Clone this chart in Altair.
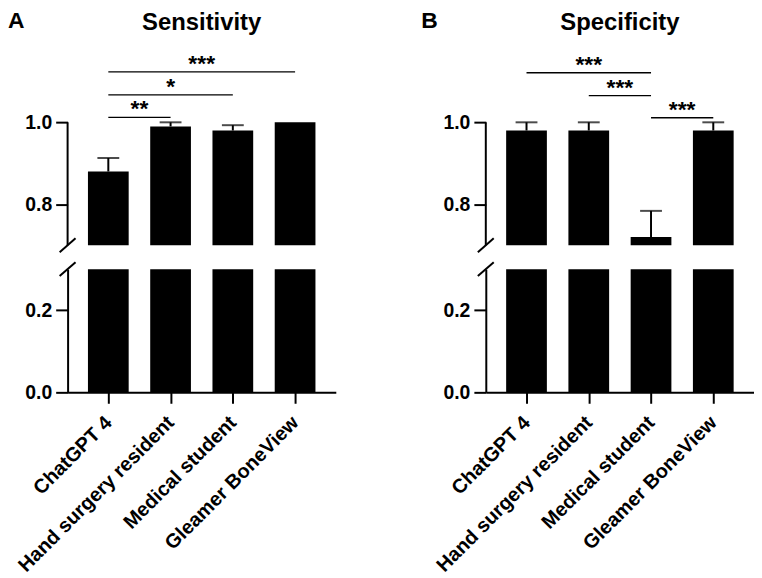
import json
import altair as alt
import pandas as pd

# ---------------- data ----------------
categories = ["ChatGPT 4", "Hand surgery resident", "Medical student", "Gleamer BoneView"]

sens_values = [0.88, 0.99, 0.98, 1.00]
sens_err = [0.033, 0.010, 0.013, 0.0]

spec_values = [0.98, 0.98, 0.72, 0.98]
spec_err = [0.020, 0.020, 0.064, 0.020]

# significance brackets (category index from/to, label, height)
sens_from = [0, 0, 0]
sens_to = [1, 2, 3]
sens_stars = ["**", "*", "***"]
sens_level = [1.012, 1.067, 1.123]

spec_from = [0, 1, 2]
spec_to = [2, 2, 3]
spec_stars = ["***", "***", "***"]
spec_level = [1.121, 1.065, 1.011]

upper_range = [0.7, 1.0]     # upper segment of broken axis
lower_range = [0.0, 0.3]     # lower segment of broken axis
upper_top = 1.17             # room for brackets
upper_ticks = [0.8, 1.0]
lower_ticks = [0.0, 0.2]

# ---------------- style ----------------
FONT = "Liberation Sans"
W = 270
H_UP = 194
H_LO = 124
X_DOMAIN = [-0.654, 3.654]
BAR_W = 41
LAB_FS = 19.5
CAT_FS = 20

label_expr = json.dumps(categories) + "[datum.value]"

one = pd.DataFrame({"k": [0]})


def y_axis(vals, show_domain):
    return alt.Axis(
        values=vals, format=".1f", domain=show_domain, domainColor="black", domainWidth=2,
        ticks=True, tickColor="black", tickWidth=2, tickSize=12, grid=False,
        labelFont=FONT, labelFontSize=LAB_FS, labelFontWeight="bold", labelColor="black",
        labelPadding=4, labelFlush=False, title=None,
    )


def panel(title, letter, letter_x, values, errs, b_from, b_to, b_stars, b_level):
    df = pd.DataFrame({"idx": list(range(len(categories))), "cat": categories,
                       "value": values, "err": errs})
    df["upper"] = df["value"] + df["err"]
    br = pd.DataFrame({"from": b_from, "to": b_to, "stars": b_stars, "level": b_level})
    br["mid"] = (br["from"] + br["to"]) / 2

    xs = alt.Scale(domain=X_DOMAIN, nice=False, zero=False, padding=0)
    ys_up = alt.Scale(domain=[upper_range[0], upper_top], nice=False, zero=False, padding=0)
    ys_lo = alt.Scale(domain=lower_range, nice=False, zero=False, padding=0)

    # ---------- upper segment ----------
    bars_up = alt.Chart(df).mark_bar(size=BAR_W, color="black").encode(
        x=alt.X("idx:Q", scale=xs, axis=None, title=None),
        y=alt.Y("value:Q", scale=ys_up, axis=y_axis(upper_ticks, False), title=None),
        y2=alt.datum(upper_range[0]),
    )
    err_rule = alt.Chart(df).transform_filter("datum.err > 0").mark_rule(
        color="black", strokeWidth=2).encode(
        x=alt.X("idx:Q", title=None),
        y=alt.Y("value:Q", title=None),
        y2="upper:Q",
    )
    err_cap = alt.Chart(df).transform_filter("datum.err > 0").mark_tick(
        color="black", orient="horizontal", size=22, thickness=2).encode(
        x=alt.X("idx:Q", title=None),
        y=alt.Y("upper:Q", title=None),
    )
    br_rule = alt.Chart(br).mark_rule(color="black", strokeWidth=1.4).encode(
        x=alt.X("from:Q", title=None),
        x2="to:Q",
        y=alt.Y("level:Q", title=None),
    )
    br_text = alt.Chart(br).mark_text(
        font=FONT, fontSize=23, fontWeight="bold", color="black",
        baseline="alphabetic", align="center", dy=-1).encode(
        x=alt.X("mid:Q", title=None),
        y=alt.Y("level:Q", title=None),
        text="stars:N",
    )
    axis_line = alt.Chart(one).mark_rule(color="black", strokeWidth=2).encode(
        x=alt.value(0),
        y=alt.datum(upper_range[0]),
        y2=alt.datum(upper_range[1]),
    )
    slash_up = alt.Chart(one).mark_rule(color="black", strokeWidth=2, yOffset=7, y2Offset=-7).encode(
        x=alt.value(-8), x2=alt.value(8),
        y=alt.datum(upper_range[0]), y2=alt.datum(upper_range[0]),
    )
    letter_txt = alt.Chart(one).mark_text(
        text=letter, font=FONT, fontSize=23, fontWeight="bold", color="black",
        align="left", baseline="alphabetic").encode(
        x=alt.value(letter_x), y=alt.value(-24.5))
    title_txt = alt.Chart(one).mark_text(
        text=title, font=FONT, fontSize=24, fontWeight="bold", color="black",
        align="center", baseline="alphabetic").encode(
        x=alt.value(W / 2), y=alt.value(-23))

    upper = alt.layer(bars_up, err_rule, err_cap, br_rule, br_text, axis_line,
                      slash_up, letter_txt, title_txt).properties(width=W, height=H_UP)

    # ---------- lower segment ----------
    bars_lo = alt.Chart(df).mark_bar(size=BAR_W, color="black", clip=True).encode(
        x=alt.X("idx:Q", scale=xs, title=None, axis=alt.Axis(
            values=list(range(len(categories))), labelExpr=label_expr, labelAngle=-45,
            labelAlign="right", labelBaseline="middle",
            domain=True, domainColor="black", domainWidth=2,
            ticks=True, tickColor="black", tickWidth=2, tickSize=11, grid=False,
            labelFont=FONT, labelFontSize=CAT_FS, labelFontWeight="bold", labelColor="black",
            labelPadding=16, labelOverlap=False, labelFlush=False, labelBound=False,
            labelLimit=400, title=None)),
        y=alt.Y("value:Q", scale=ys_lo, axis=y_axis(lower_ticks, True), title=None),
        y2=alt.datum(lower_range[0]),
    )
    slash_lo = alt.Chart(one).mark_rule(color="black", strokeWidth=2, yOffset=7, y2Offset=-7).encode(
        x=alt.value(-8), x2=alt.value(8),
        y=alt.datum(lower_range[1]), y2=alt.datum(lower_range[1]),
    )
    lower = alt.layer(bars_lo, slash_lo).properties(width=W, height=H_LO)

    return upper, lower


upA, loA = panel("Sensitivity", "A", -60, sens_values, sens_err, sens_from, sens_to, sens_stars, sens_level)
upB, loB = panel("Specificity", "B", -65, spec_values, spec_err, spec_from, spec_to, spec_stars, spec_level)

chart = alt.concat(
    upA, upB, loA, loB, columns=2, bounds="flush",
    spacing={"row": 24, "column": 151},
).resolve_scale(x="independent", y="independent").properties(
    padding=0, background="white"
).configure(font=FONT).configure_view(stroke=None)

chart.save("out.html", embed_options={"renderer": "svg", "actions": False})
